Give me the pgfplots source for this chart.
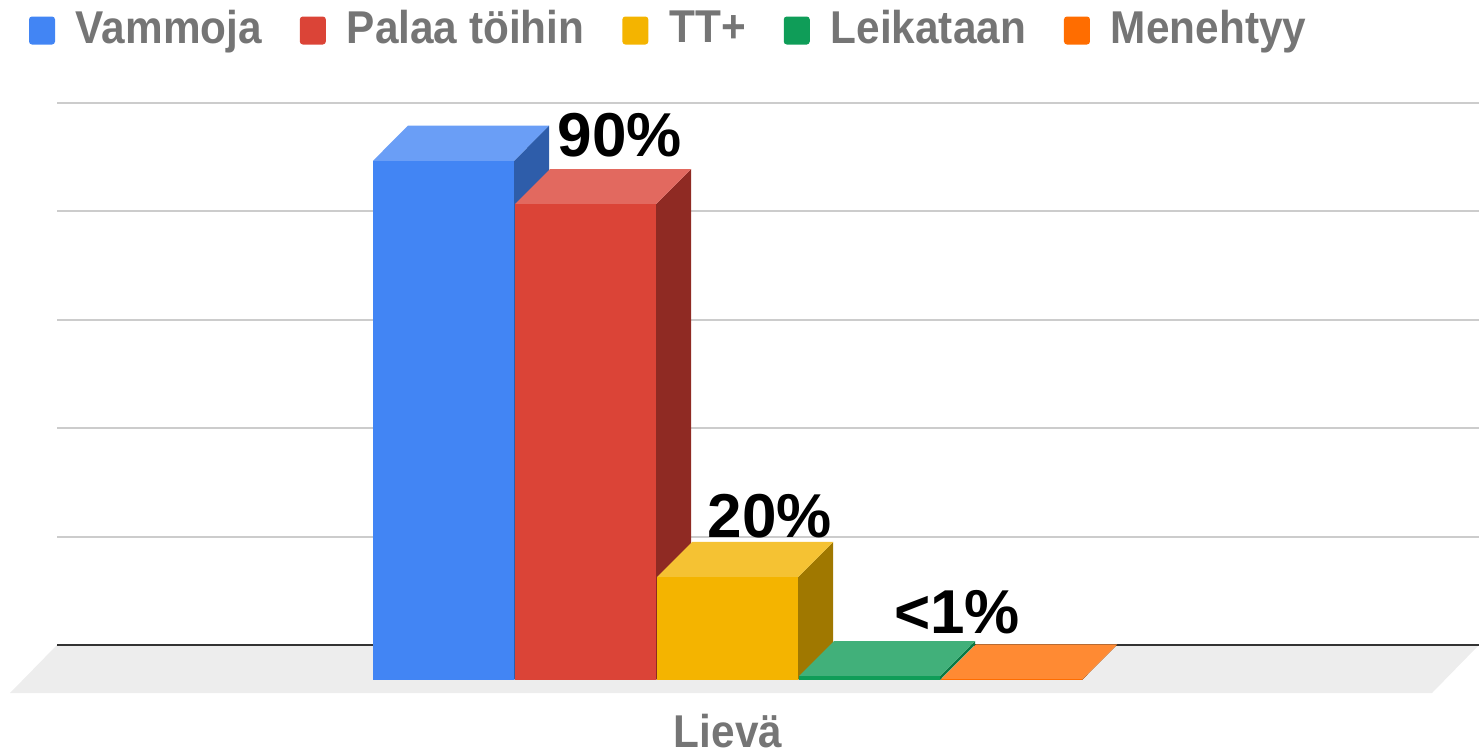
\documentclass[border=0pt]{standalone}
\usepackage{pgfplots}
\pgfplotsset{compat=1.18}
\usepackage{fontspec}
\setmainfont{Liberation Sans}
\newfontfamily\condfont[FakeStretch=0.92]{Liberation Sans}
\definecolor{txtgray}{HTML}{757575}
\definecolor{floorgray}{HTML}{EDEDED}
\definecolor{gridgray}{HTML}{CCCCCC}
\definecolor{axisdark}{HTML}{333333}
\definecolor{cblue}{HTML}{4285F4}
\definecolor{cbluetop}{HTML}{6A9EF6}
\definecolor{cblueside}{HTML}{2E5DAA}
\definecolor{cred}{HTML}{DB4437}
\definecolor{credtop}{HTML}{E2695F}
\definecolor{credside}{HTML}{8F2A23}
\definecolor{cyellow}{HTML}{F4B400}
\definecolor{cyellowtop}{HTML}{F5C233}
\definecolor{cyellowside}{HTML}{A07800}
\definecolor{cgreen}{HTML}{0F9D58}
\definecolor{cgreentop}{HTML}{41B07A}
\definecolor{cgreenside}{HTML}{0B7A44}
\definecolor{corange}{HTML}{FF6D00}
\definecolor{corangetop}{HTML}{FF8A33}
\definecolor{corangeside}{HTML}{B24C00}
\begin{document}
\begin{tikzpicture}
\begin{axis}[
  x=0.5pt, y=2.71pt,
  xmin=0, xmax=1479, ymin=-14.02, ymax=125.46,
  hide axis, clip=false, enlargelimits=false,
  legend columns=5,
  legend style={at={(axis cs:29,120.2)}, anchor=west, draw=none, fill=none,
    inner sep=0pt, outer sep=0pt,
    font=\condfont\bfseries\fontsize{23}{26}\selectfont, text=txtgray,
    nodes={inner sep=0pt},
    /tikz/every odd column/.style={column sep=10.5pt},
    /tikz/every even column/.style={column sep=19pt}},
  legend image code/.code={\fill[#1, draw=none, rounded corners=1.5pt] (0pt,-8pt) rectangle (13pt,6pt);}
]
\addlegendimage{fill=cblue, draw=none}\addlegendentry{Vammoja}
\addlegendimage{fill=cred, draw=none}\addlegendentry{Palaa töihin}
\addlegendimage{fill=cyellow, draw=none}\addlegendentry{TT+}
\addlegendimage{fill=cgreen, draw=none}\addlegendentry{Leikataan}
\addlegendimage{fill=corange, draw=none}\addlegendentry{Menehtyy}

% floor
\addplot[fill=floorgray, draw=none, forget plot] coordinates {(57,6.46) (1479,6.46) (1432,-2.4) (10,-2.4)} -- cycle;
% gridlines (back plane)
\addplot[gridgray, line width=1pt, forget plot] coordinates {(57,26.46) (1479,26.46)};
\addplot[gridgray, line width=1pt, forget plot] coordinates {(57,46.46) (1479,46.46)};
\addplot[gridgray, line width=1pt, forget plot] coordinates {(57,66.46) (1479,66.46)};
\addplot[gridgray, line width=1pt, forget plot] coordinates {(57,86.46) (1479,86.46)};
\addplot[gridgray, line width=1pt, forget plot] coordinates {(57,106.46) (1479,106.46)};
\addplot[axisdark, line width=1.2pt, forget plot] coordinates {(57,6.46) (1479,6.46)};

% Vammoja 95.8
\addplot[fill=cblueside, draw=none, forget plot] coordinates {(514,0) (549,6.46) (549,102.26) (514,95.8)} -- cycle;
\addplot[fill=cbluetop, draw=none, forget plot] coordinates {(373,95.8) (514,95.8) (549,102.26) (408,102.26)} -- cycle;
\addplot[fill=cblue, draw=none, forget plot] coordinates {(373,0) (514,0) (514,95.8) (373,95.8)} -- cycle;
% Palaa toihin 87.8
\addplot[fill=credside, draw=none, forget plot] coordinates {(656,0) (691,6.46) (691,94.26) (656,87.8)} -- cycle;
\addplot[fill=credtop, draw=none, forget plot] coordinates {(515,87.8) (656,87.8) (691,94.26) (550,94.26)} -- cycle;
\addplot[fill=cred, draw=none, forget plot] coordinates {(515,0) (656,0) (656,87.8) (515,87.8)} -- cycle;
% TT+ 19.0
\addplot[fill=cyellowside, draw=none, forget plot] coordinates {(798,0) (833,6.46) (833,25.46) (798,19.0)} -- cycle;
\addplot[fill=cyellowtop, draw=none, forget plot] coordinates {(657,19.0) (798,19.0) (833,25.46) (692,25.46)} -- cycle;
\addplot[fill=cyellow, draw=none, forget plot] coordinates {(657,0) (798,0) (798,19.0) (657,19.0)} -- cycle;
% Leikataan 0.7
\addplot[fill=cgreenside, draw=none, forget plot] coordinates {(940,0) (975,6.46) (975,7.16) (940,0.7)} -- cycle;
\addplot[fill=cgreentop, draw=none, forget plot] coordinates {(799,0.7) (940,0.7) (975,7.16) (834,7.16)} -- cycle;
\addplot[fill=cgreen, draw=none, forget plot] coordinates {(799,0) (940,0) (940,0.7) (799,0.7)} -- cycle;
% Menehtyy 0.1
\addplot[fill=corangeside, draw=none, forget plot] coordinates {(1082,0) (1117,6.46) (1117,6.56) (1082,0.1)} -- cycle;
\addplot[fill=corangetop, draw=none, forget plot] coordinates {(941,0.1) (1082,0.1) (1117,6.56) (976,6.56)} -- cycle;
\addplot[fill=corange, draw=none, forget plot] coordinates {(941,0) (1082,0) (1082,0.1) (941,0.1)} -- cycle;

\node[font=\bfseries\fontsize{31}{34}\selectfont, anchor=base] at (axis cs:620,96.5) {90\%};
\node[font=\bfseries\fontsize{31}{34}\selectfont, anchor=base] at (axis cs:770,26.2) {20\%};
\node[font=\bfseries\fontsize{31}{34}\selectfont, anchor=base] at (axis cs:957,8.67) {<1\%};
\node[font=\condfont\bfseries\fontsize{23}{26}\selectfont, text=txtgray, anchor=base, inner sep=0pt] at (axis cs:728,-12.5) {Lievä};
\end{axis}
\pgfresetboundingbox
\path (current axis.south west) rectangle (current axis.north east);
\end{tikzpicture}
\end{document}
